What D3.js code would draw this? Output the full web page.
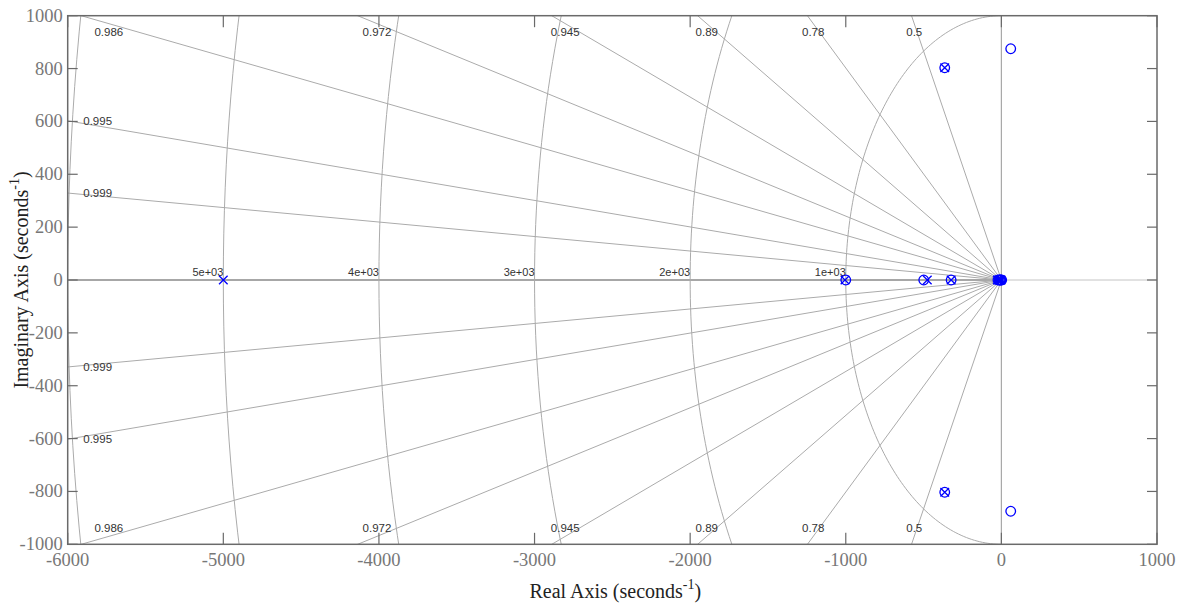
<!DOCTYPE html>
<html>
<head>
<meta charset="utf-8">
<script src="https://cdn.jsdelivr.net/npm/d3@7"></script>
<style>
  body { margin: 0; background: #fff; }
  svg { display: block; }
</style>
</head>
<body>
<svg id="chart" width="1181" height="605"></svg>
<script>
// pole / zero locations
const poleRe = [-5000, -1005, -476, -323, -364, -364, -26, -18, -12, -6, -2];
const poleIm = [0, 0, 0, 0, 803, -803, 0, 0, 0, 0, 0];
const zeroRe = [60, 60, -1000, -499, -323, -364, -364, -22, -14, -8, -3, 2];
const zeroIm = [875, -875, 0, 0, 0, 803, -803, 0, 0, 0, 0, 0];

// grid: damping lines and natural frequency arcs
const zetaVals = [0.5, 0.78, 0.89, 0.945, 0.972, 0.986, 0.995, 0.9985];
const zetaText = ["0.5", "0.78", "0.89", "0.945", "0.972", "0.986", "0.995", "0.999"];
const wnVals = [1000, 2000, 3000, 4000, 5000, 6000];
const wnText = ["1e+03", "2e+03", "3e+03", "4e+03", "5e+03", "6e+03"];

const xTicks = [-6000, -5000, -4000, -3000, -2000, -1000, 0, 1000];
const yTicks = [-1000, -800, -600, -400, -200, 0, 200, 400, 600, 800, 1000];

const svg = d3.select("#chart");
const x = d3.scaleLinear().domain([-6000, 1000]).range([67.7, 1157]);
const y = d3.scaleLinear().domain([-1000, 1000]).range([544.3, 15.7]);
const [x0, x1] = x.range();
const [y1, y0] = y.range();

svg.append("defs").append("clipPath").attr("id", "clip")
  .append("rect").attr("x", x0).attr("y", y0)
  .attr("width", x1 - x0).attr("height", y1 - y0);

const plot = svg.append("g").attr("clip-path", "url(#clip)");
const gridCol = "#ababab";

// axis lines through origin
plot.append("line")
  .attr("x1", x(0)).attr("x2", x(0)).attr("y1", y0).attr("y2", y1)
  .attr("stroke", "#a8a8a8").attr("stroke-width", 1.2);
plot.append("line")
  .attr("x1", x(0)).attr("x2", x1).attr("y1", y(0)).attr("y2", y(0))
  .attr("stroke", "#c4c4c4").attr("stroke-width", 1);
plot.append("line")
  .attr("x1", x0).attr("x2", x(0)).attr("y1", y(0)).attr("y2", y(0))
  .attr("stroke", "#8a8a8a").attr("stroke-width", 1.6);

// constant wn arcs (left half plane)
const arc = d3.line().x(d => x(d[0])).y(d => y(d[1]));
wnVals.forEach(wn => {
  const pts = d3.range(0, 181).map(i => {
    const a = Math.PI / 2 + i * Math.PI / 180;
    return [wn * Math.cos(a), wn * Math.sin(a)];
  });
  plot.append("path").attr("d", arc(pts))
    .attr("fill", "none").attr("stroke", gridCol).attr("stroke-width", 1);
});

// constant damping lines
const xmin = -6000, ymax = 1000;
zetaVals.forEach((z, i) => {
  const s = Math.sqrt(1 - z * z) / z; // |im| / |re|
  [1, -1].forEach(sg => {
    plot.append("line")
      .attr("x1", x(0)).attr("y1", y(0))
      .attr("x2", x(xmin)).attr("y2", y(sg * -xmin * s))
      .attr("stroke", gridCol).attr("stroke-width", 1);
    const t = svg.append("text")
      .attr("font-family", "'Liberation Sans', Arial, sans-serif")
      .attr("font-size", "11.5px").attr("fill", "#333")
      .attr("dominant-baseline", "central")
      .text(zetaText[i]);
    if (-xmin * s > ymax) {
      t.attr("text-anchor", "middle")
        .attr("x", x(-0.97 * ymax / s))
        .attr("y", y(sg * 0.94 * ymax));
    } else {
      t.attr("text-anchor", "start")
        .attr("x", x(xmin + 100))
        .attr("y", y(sg * -xmin * s));
    }
  });
});

// wn labels
wnVals.forEach((wn, i) => {
  if (x(-wn) - 35 < x0) return;
  svg.append("text")
    .attr("x", x(-wn)).attr("y", y(0) - 4)
    .attr("text-anchor", "end")
    .attr("font-family", "'Liberation Sans', Arial, sans-serif")
    .attr("font-size", "11px").attr("fill", "#333")
    .text(wnText[i]);
});

// frame
svg.append("rect")
  .attr("x", x0).attr("y", y0).attr("width", x1 - x0).attr("height", y1 - y0)
  .attr("fill", "none").attr("stroke", "#6a6a6a").attr("stroke-width", 1.5);

const tickCol = "#6a6a6a";
xTicks.forEach(v => {
  [[y1, y1 - 11.5], [y0, y0 + 11.5]].forEach(([a, b]) => {
    svg.append("line").attr("x1", x(v)).attr("x2", x(v)).attr("y1", a).attr("y2", b)
      .attr("stroke", tickCol).attr("stroke-width", 1.2);
  });
  svg.append("text")
    .attr("x", x(v)).attr("y", y1 + 16)
    .attr("text-anchor", "middle").attr("dominant-baseline", "central")
    .attr("font-family", "'Liberation Serif', 'Times New Roman', serif")
    .attr("font-size", "18.5px").attr("fill", "#777")
    .text(v);
});
yTicks.forEach(v => {
  [[x0, x0 + 10], [x1, x1 - 10]].forEach(([a, b]) => {
    svg.append("line").attr("y1", y(v)).attr("y2", y(v)).attr("x1", a).attr("x2", b)
      .attr("stroke", tickCol).attr("stroke-width", 1.2);
  });
  svg.append("text")
    .attr("x", x0 - 5).attr("y", y(v))
    .attr("text-anchor", "end").attr("dominant-baseline", "central")
    .attr("font-family", "'Liberation Serif', 'Times New Roman', serif")
    .attr("font-size", "18.5px").attr("fill", "#777")
    .text(v);
});

// markers
const blue = "#0000ff";
const mk = svg.append("g");
zeroRe.forEach((re, i) => {
  mk.append("circle").attr("cx", x(re)).attr("cy", y(zeroIm[i])).attr("r", 4.8)
    .attr("fill", "none").attr("stroke", blue).attr("stroke-width", 1.3);
});
poleRe.forEach((re, i) => {
  const cx = x(re), cy = y(poleIm[i]), r = 4.3;
  mk.append("path")
    .attr("d", `M${cx - r},${cy - r}L${cx + r},${cy + r}M${cx - r},${cy + r}L${cx + r},${cy - r}`)
    .attr("stroke", blue).attr("stroke-width", 1.3);
});

// axis titles
const xt = svg.append("text")
  .attr("x", (x0 + x1) / 2 + 3).attr("y", 598)
  .attr("text-anchor", "middle")
  .attr("font-family", "'Liberation Serif', 'Times New Roman', serif")
  .attr("font-size", "20px").attr("fill", "#222");
xt.append("tspan").text("Real Axis (seconds");
xt.append("tspan").attr("dy", -9).attr("font-size", "14px").text("-1");
xt.append("tspan").attr("dy", 9).text(")");

const yt = svg.append("text")
  .attr("transform", `translate(28,${(y0 + y1) / 2}) rotate(-90)`)
  .attr("text-anchor", "middle")
  .attr("font-family", "'Liberation Serif', 'Times New Roman', serif")
  .attr("font-size", "20px").attr("fill", "#222");
yt.append("tspan").text("Imaginary Axis (seconds");
yt.append("tspan").attr("dy", -9).attr("font-size", "14px").text("-1");
yt.append("tspan").attr("dy", 9).text(")");
</script>
</body>
</html>
